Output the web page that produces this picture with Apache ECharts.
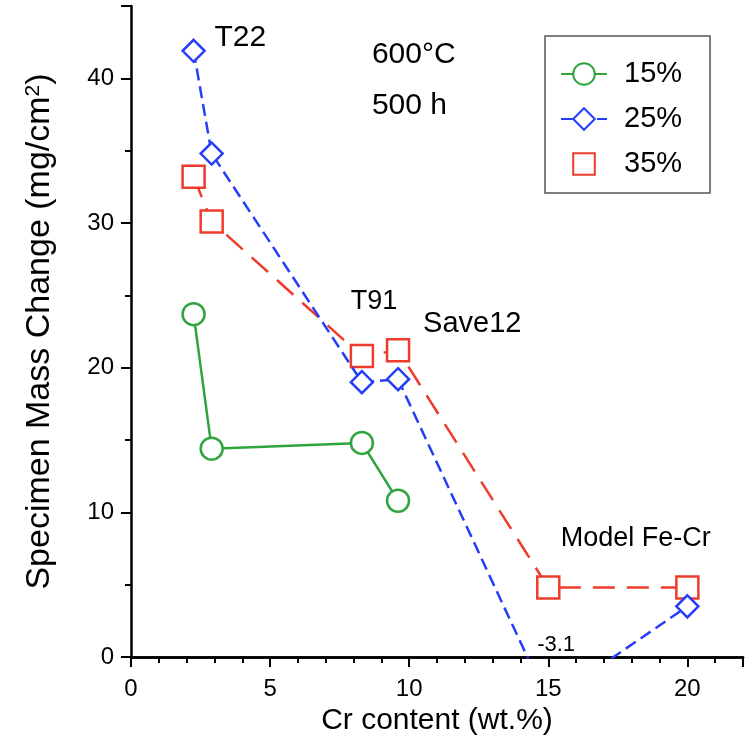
<!DOCTYPE html>
<html>
<head>
<meta charset="utf-8">
<script src="https://cdn.jsdelivr.net/npm/echarts@6/dist/echarts.min.js"></script>
<style>
  html, body { margin: 0; padding: 0; background: #fff; }
  #chart { width: 746px; height: 741px; }
</style>
</head>
<body>
<div id="chart"></div>
<script>
// 데이터 (Cr 함량 wt.% / 질량 변화 mg/cm2)
var crContent = [2.25, 2.9, 8.3, 9.6];
var crContentAll = [2.25, 2.9, 8.3, 9.6, 15, 20];
var mass15 = [23.7, 14.4, 14.8, 10.8];
var mass25 = [41.9, 34.8, 19.0, 19.2, -3.1, 3.5];
var mass35 = [33.2, 30.1, 20.8, 21.2, 4.8, 4.8];
var seriesNames = ['15%', '25%', '35%'];
var xTicks = [0, 5, 10, 15, 20];
var yTicks = [0, 10, 20, 30, 40];

// 주석 텍스트 (데이터 좌표)
var notes = [
  { text: 'T22', x: 3.0, y: 42.8, size: 30 },
  { text: '600°C', x: 8.66, y: 41.6, size: 30 },
  { text: '500 h', x: 8.66, y: 38.1, size: 30 },
  { text: 'T91', x: 7.9, y: 24.6, size: 27 },
  { text: 'Save12', x: 10.5, y: 23.0, size: 29 },
  { text: 'Model Fe-Cr', x: 15.45, y: 8.2, size: 27 },
  { text: '-3.1', x: 14.6, y: 0.8, size: 22 }
];

var FONT = 'Liberation Sans, Arial, sans-serif';
var GREEN = 'rgb(48, 165, 62)';
var BLUE = 'rgb(38, 62, 250)';
var RED = 'rgb(238, 60, 44)';

function pairs(xs, ys) {
  return ys.map(function (v, i) { return [xs[i], v]; });
}

function axisLabelFmt(list) {
  return function (v) { return list.indexOf(v) >= 0 ? String(v) : ''; };
}

var option = {
  animation: false,
  backgroundColor: '#fff',
  grid: { left: 131, top: 6, right: 0, bottom: 84 },
  legend: {
    orient: 'vertical',
    left: 545,
    top: 36,
    padding: [23, 28, 14, 15],
    itemGap: 15,
    itemWidth: 46,
    itemHeight: 27,
    borderColor: '#555',
    borderWidth: 1.5,
    textStyle: { fontFamily: FONT, fontSize: 29, color: '#000', lineHeight: 30, padding: [0, 0, 0, 12] },
    data: [
      { name: '15%' },
      { name: '25%' },
      { name: '35%', lineStyle: { opacity: 0 } }
    ]
  },
  xAxis: [{
    type: 'value',
    min: 0,
    max: 22,
    interval: 5,
    name: 'Cr content (wt.%)',
    nameLocation: 'middle',
    nameGap: 45,
    nameTextStyle: { fontFamily: FONT, fontSize: 30, color: '#000' },
    axisLine: { onZero: false, lineStyle: { color: '#000', width: 2.5 } },
    axisTick: { length: 10, lineStyle: { color: '#000', width: 2 } },
    minorTick: { show: true, splitNumber: 5, length: 6, lineStyle: { color: '#000', width: 2 } },
    splitLine: { show: false },
    axisLabel: { fontFamily: FONT, fontSize: 24, color: '#000', margin: 20, formatter: axisLabelFmt(xTicks) }
  }, {
    type: 'value',
    position: 'top',
    min: 0,
    max: 22,
    axisLine: { show: true, lineStyle: { color: '#000', width: 2.5 } },
    axisTick: { show: false },
    axisLabel: { show: false },
    splitLine: { show: false }
  }],
  yAxis: {
    type: 'value',
    min: 0,
    max: 45,
    interval: 10,
    name: 'Specimen Mass Change (mg/cm{sup|2})',
    nameLocation: 'middle',
    nameGap: 74,
    nameTextStyle: {
      fontFamily: FONT, fontSize: 34, color: '#000',
      rich: { sup: { fontFamily: FONT, fontSize: 21, color: '#000', verticalAlign: 'top', padding: [0, 0, 12, 0] } }
    },
    axisLine: { onZero: false, lineStyle: { color: '#000', width: 2.5 } },
    axisTick: { length: 10, lineStyle: { color: '#000', width: 2 } },
    minorTick: { show: true, splitNumber: 2, length: 6, lineStyle: { color: '#000', width: 2 } },
    splitLine: { show: false },
    axisLabel: { fontFamily: FONT, fontSize: 24, color: '#000', margin: 17, formatter: axisLabelFmt(yTicks) }
  },
  series: [
    {
      name: seriesNames[0],
      type: 'line',
      data: pairs(crContent, mass15),
      symbol: 'circle',
      symbolSize: 22,
      z: 3,
      lineStyle: { color: GREEN, width: 2.5 },
      itemStyle: { color: '#fff', borderColor: GREEN, borderWidth: 2.5 }
    },
    {
      name: seriesNames[1],
      type: 'line',
      data: pairs(crContentAll, mass25),
      symbol: 'diamond',
      symbolSize: 22,
      z: 4,
      lineStyle: { color: BLUE, width: 2.5, type: [12, 6] },
      itemStyle: { color: '#fff', borderColor: BLUE, borderWidth: 2.5 }
    },
    {
      name: seriesNames[2],
      type: 'line',
      data: pairs(crContentAll, mass35),
      symbol: 'rect',
      symbolSize: 22,
      z: 2,
      lineStyle: { color: RED, width: 2.5, type: [22, 12] },
      itemStyle: { color: '#fff', borderColor: RED, borderWidth: 2.5 }
    }
  ]
};

var myChart = echarts.init(document.getElementById('chart'));
myChart.setOption(option);

// 주석은 축 좌표로 변환해서 배치
var graphics = notes.map(function (n) {
  var p = myChart.convertToPixel({ gridIndex: 0 }, [n.x, n.y]);
  return {
    type: 'text',
    x: p[0],
    y: p[1],
    z: 10,
    style: {
      text: n.text,
      fill: '#000',
      font: n.size + 'px ' + FONT,
      textAlign: 'left',
      textVerticalAlign: 'middle'
    }
  };
});
myChart.setOption({ graphic: graphics });
</script>
</body>
</html>
